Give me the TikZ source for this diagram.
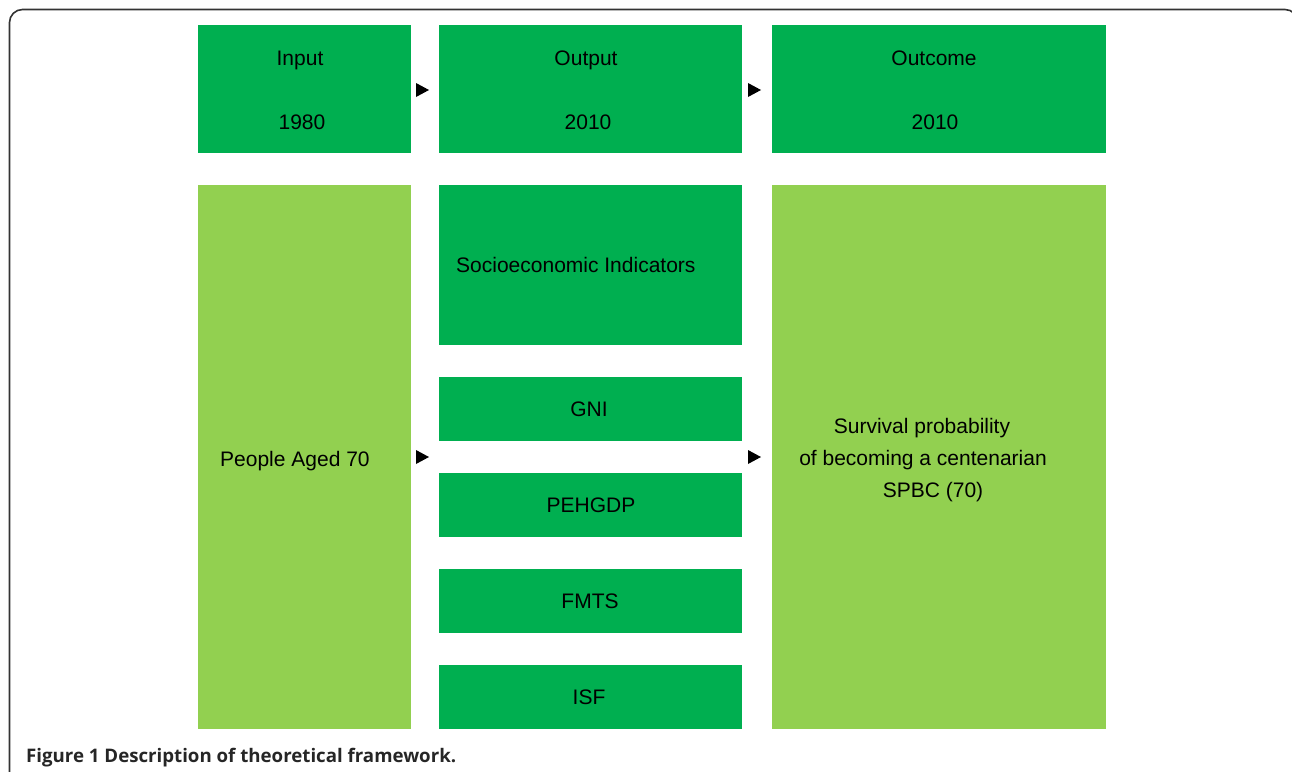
\documentclass[tikz,border=0pt]{standalone}
\usepackage{fontspec}
\setmainfont{Liberation Sans}
\newfontfamily\capfont{Open Sans}
\definecolor{dkgreen}{HTML}{00AF50}
\definecolor{ltgreen}{HTML}{92D050}
\definecolor{framegray}{HTML}{333333}
\begin{document}
\begin{tikzpicture}[x=1pt,y=-1pt,
  box/.style={rectangle,inner sep=0pt,outer sep=0pt,anchor=north west,draw=none},
  dbox/.style={box,fill=dkgreen},
  lbox/.style={box,fill=ltgreen},
  lbl/.style={inner sep=0pt,font=\fontsize{21}{32}\selectfont,text=black},
  tri/.style={fill=black}]
\clip (0,0) rectangle (1292,771);
\fill[white] (0,0) rectangle (1292,771);
\draw[framegray,line width=1.6pt,rounded corners=13pt] (9.5,800) -- (9.5,9.5) -- (1298,9.5) -- (1298,800);
% top row
\node[dbox,minimum width=213pt,minimum height=128pt] (input) at (198,25) {};
\node[dbox,minimum width=303pt,minimum height=128pt] (output) at (439,25) {};
\node[dbox,minimum width=334pt,minimum height=128pt] (outcome) at (772,25) {};
\node[lbl,anchor=base] (tin) at (300,65) {Input};
\node[lbl,anchor=base] (tin2) at (302,129) {1980};
\node[lbl,anchor=base] (tout) at (586,65) {Output};
\node[lbl,anchor=base] (tout2) at (588,129) {2010};
\node[lbl,anchor=base] (toc) at (934,65) {Outcome};
\node[lbl,anchor=base] (toc2) at (935,129) {2010};
% lower row
\node[lbox,minimum width=213pt,minimum height=544pt] (people) at (198,185) {};
\node[dbox,minimum width=303pt,minimum height=160pt] (socio) at (439,185) {};
\node[dbox,minimum width=303pt,minimum height=64pt] (gni) at (439,377) {};
\node[dbox,minimum width=303pt,minimum height=64pt] (peh) at (439,473) {};
\node[dbox,minimum width=303pt,minimum height=64pt] (fmts) at (439,569) {};
\node[dbox,minimum width=303pt,minimum height=64pt] (isf) at (439,665) {};
\node[lbox,minimum width=334pt,minimum height=544pt] (surv) at (772,185) {};
\node[lbl,anchor=base west] (tpeople) at (220,466) {People Aged 70};
\node[lbl,anchor=base west] (tsocio) at (456,272) {Socioeconomic Indicators};
\node[lbl,anchor=base] (tgni) at (589,416) {GNI};
\node[lbl,anchor=base] (tpeh) at (591,512) {PEHGDP};
\node[lbl,anchor=base] (tfmts) at (590,608) {FMTS};
\node[lbl,anchor=base] (tisf) at (589,704) {ISF};
\node[lbl,anchor=base] (ts1) at (922,433) {Survival probability};
\node[lbl,anchor=base] (ts2) at (923,465) {of becoming a centenarian};
\node[lbl,anchor=base] (ts3) at (933,497) {SPBC (70)};
% triangles
\coordinate (a1) at (416,90);
\coordinate (a2) at (748,90);
\coordinate (a3) at (416,457);
\coordinate (a4) at (748,457);
\foreach \c in {a1,a2,a3,a4}{
  \fill[tri] (\c) ++(0,-7) -- ++(13,7) -- ++(-13,7) -- cycle;
}
% caption
\node[inner sep=0pt,anchor=base west,text={black!85}] (cap) at (26,762) {\resizebox{430pt}{!}{\capfont\bfseries\fontsize{19.5}{22}\selectfont Figure 1 Description of theoretical framework.}};
\end{tikzpicture}
\end{document}
